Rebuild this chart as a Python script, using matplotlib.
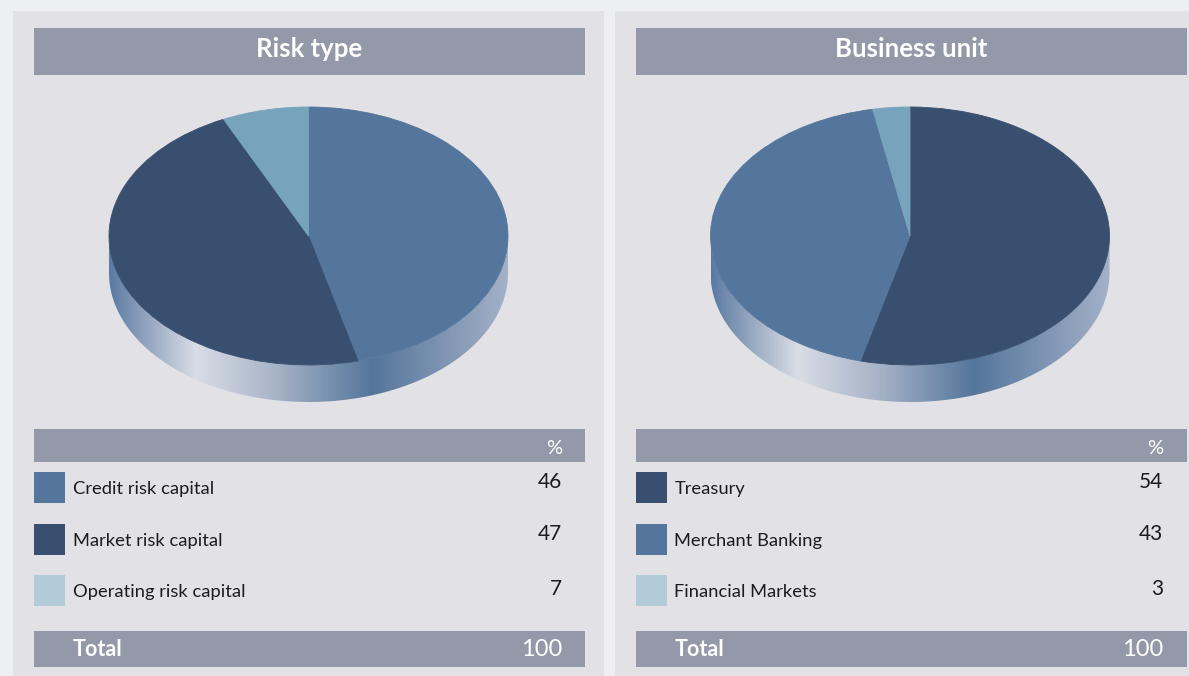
import numpy as np
import matplotlib
matplotlib.use('Agg')
import matplotlib.pyplot as plt
from matplotlib.patches import Rectangle, Polygon
from matplotlib.colors import LinearSegmentedColormap

# ---------------- data ----------------
panel_titles = ['Risk type', 'Business unit']
risk_labels = ['Credit risk capital', 'Market risk capital', 'Operating risk capital']
risk_values = [46, 47, 7]
unit_labels = ['Treasury', 'Merchant Banking', 'Financial Markets']
unit_values = [54, 43, 3]
header_unit = '%'
total_label = 'Total'

DARK = '#384f6f'
MID = '#55769c'
LIGHT = '#77a3bd'
LIGHT_KEY = '#b1cbd8'
risk_pie_colors = [MID, DARK, LIGHT]
risk_key_colors = [MID, DARK, LIGHT_KEY]
unit_pie_colors = [DARK, MID, LIGHT]
unit_key_colors = [DARK, MID, LIGHT_KEY]

# ---------------- style / layout ----------------
W, H = 1189, 676
FONT = ['Lato', 'DejaVu Sans']
plt.rcParams['font.family'] = FONT
BG = '#eeeff3'
PANEL = '#e2e1e6'
BAR = '#9399a8'
TXT = '#1c1c1c'

side_stops = [(-1.0, '#5b7ba2'), (-0.88, '#8096b5'), (-0.57, '#d8dde6'),
              (-0.18, '#aab5c9'), (0.32, '#54769b'), (0.87, '#95a5bf'),
              (1.0, '#a3b1c8')]
side_cmap = LinearSegmentedColormap.from_list(
    'side', [((u + 1) / 2, c) for u, c in side_stops])

fig = plt.figure(figsize=(W / 100, H / 100), dpi=100, facecolor=BG)
ax0 = fig.add_axes([0, 0, 1, 1])
ax0.set_xlim(0, W)
ax0.set_ylim(H, 0)
ax0.axis('off')


def pix_axes(x0, y0, x1, y1):
    return fig.add_axes([x0 / W, 1 - y1 / H, (x1 - x0) / W, (y1 - y0) / H])


def draw_pie(cx, cy, rx, ry, depth, values, colors):
    d = depth / ry
    m = 0.02
    ax = pix_axes(cx - rx * (1 + m), cy - ry * (1 + m),
                  cx + rx * (1 + m), cy + ry * (1 + d + m))
    wedges, _ = ax.pie(values, colors=colors, startangle=90, counterclock=False,
                       wedgeprops=dict(linewidth=0.6))
    for w in wedges:
        w.set_edgecolor(w.get_facecolor())
        w.set_zorder(2)
    t = np.linspace(np.pi, 2 * np.pi, 300)
    top = np.column_stack([np.cos(t), np.sin(t)])
    bot = np.column_stack([np.cos(t[::-1]), np.sin(t[::-1]) - d])
    poly = Polygon(np.vstack([top, bot]), closed=True, facecolor='none',
                   edgecolor='none')
    ax.add_patch(poly)
    grad = np.tile(np.linspace(-1, 1, 600), (2, 1))
    im = ax.imshow(grad, extent=(-1, 1, -1 - d, 0), aspect='auto',
                   cmap=side_cmap, vmin=-1, vmax=1, origin='lower', zorder=1)
    im.set_clip_path(poly)
    ax.set_aspect('auto')
    ax.set_xlim(-1 - m, 1 + m)
    ax.set_ylim(-1 - d - m, 1 + m)
    ax.axis('off')


panels = [
    (0, 13, 591, panel_titles[0], risk_labels, risk_values, risk_pie_colors, risk_key_colors),
    (601.5, 615, 600, panel_titles[1], unit_labels, unit_values, unit_pie_colors, unit_key_colors),
]

label_base = [494, 546, 597]
value_base = [488, 540, 595]
key_top = [472, 524, 575]

for dx, px, pw, title, labels, values, pcols, kcols in panels:
    ax0.add_patch(Rectangle((px, 11), pw, H, color=PANEL, lw=0))
    # header
    ax0.add_patch(Rectangle((34 + dx, 28), 551, 47, color=BAR, lw=0))
    ax0.text(309.5 + dx, 57, title, ha='center', va='baseline', color='white',
             fontsize=18.5, fontweight='bold')
    # pie
    draw_pie(308.5 + dx, 236, 199.5, 129, 37, values, pcols)
    # % bar
    ax0.add_patch(Rectangle((34 + dx, 429), 551, 33, color=BAR, lw=0))
    ax0.text(562 + dx, 454, header_unit, ha='right', va='baseline',
             color='white', fontsize=14.5)
    # rows
    for i, (lab, val) in enumerate(zip(labels, values)):
        ax0.add_patch(Rectangle((34 + dx, key_top[i]), 31, 31, color=kcols[i], lw=0))
        ax0.text(73 + dx, label_base[i], lab, ha='left', va='baseline',
                 color=TXT, fontsize=13.2)
        ax0.text(562 + dx, value_base[i], f'{val}', ha='right', va='baseline',
                 color=TXT, fontsize=15)
    # total bar
    ax0.add_patch(Rectangle((34 + dx, 631), 551, 36, color=BAR, lw=0))
    ax0.text(73 + dx, 656, total_label, ha='left', va='baseline', color='white',
             fontsize=15.5, fontweight='bold')
    ax0.text(562 + dx, 656, f'{sum(values)}', ha='right', va='baseline',
             color='white', fontsize=17)

fig.savefig('out.png', dpi=100, facecolor=BG)
